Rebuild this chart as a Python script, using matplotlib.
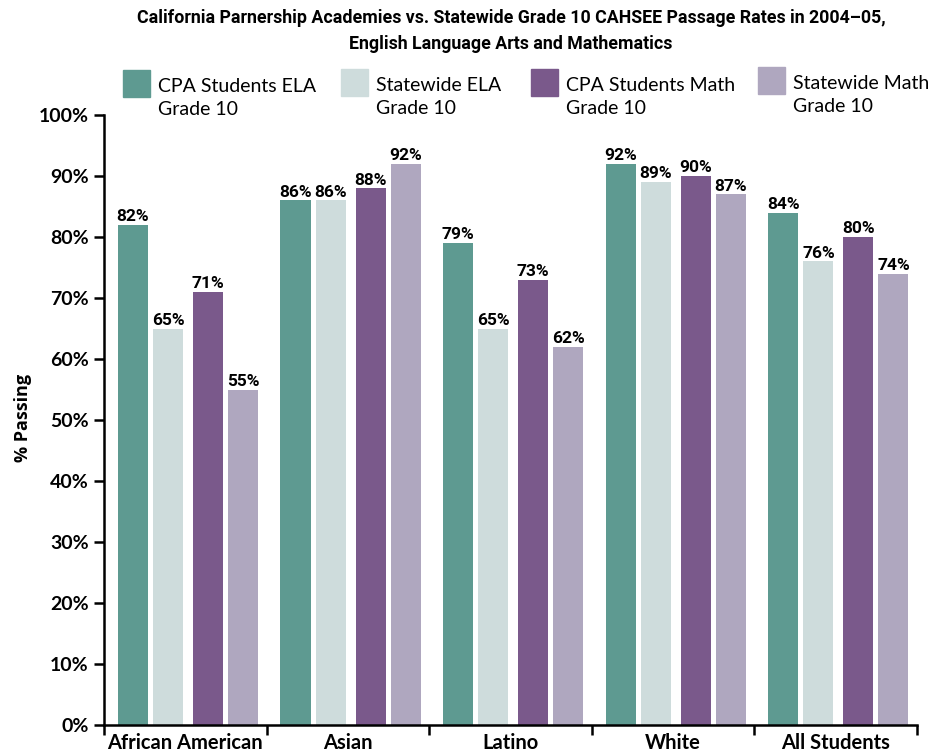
import matplotlib.pyplot as plt
import matplotlib.patches as mpatches
import numpy as np

# data
groups = ["African American", "Asian", "Latino", "White", "All Students"]
series = ["CPA Students ELA\nGrade 10", "Statewide ELA\nGrade 10",
          "CPA Students Math\nGrade 10", "Statewide Math\nGrade 10"]
cpa_ela = [82, 86, 79, 92, 84]
state_ela = [65, 86, 65, 89, 76]
cpa_math = [71, 88, 73, 90, 80]
state_math = [55, 92, 62, 87, 74]
colors = ["#5E9A91", "#CEDCDC", "#7A598B", "#AFA7BF"]

values = [cpa_ela, state_ela, cpa_math, state_math]

narrow = ["Roboto", "DejaVu Sans"]
plt.rcParams["font.family"] = ["Lato", "DejaVu Sans"]

fig = plt.figure(figsize=(9.4, 7.55), dpi=100)
ax = fig.add_axes([0.1106, 0.0397, 0.8649, 0.808])

# bar offsets inside each group (group spans [i, i+1])
offsets = [0.178, 0.394, 0.640, 0.855]
width = 0.185
x = np.arange(len(groups))

for k in range(4):
    bars = ax.bar(x + offsets[k], values[k], width, color=colors[k])
    for b, v in zip(bars, values[k]):
        ax.text(b.get_x() + b.get_width() / 2, v + 0.6, f"{v}%",
                ha="center", va="baseline", fontsize=12.5,
                family=narrow, fontweight="bold")

ax.set_xlim(0, 5)
ax.set_ylim(0, 100)
ax.set_yticks(range(0, 101, 10))
ax.set_yticklabels([f"{t}%" for t in range(0, 101, 10)],
                   fontsize=14, fontweight="bold")
ax.set_xticks(range(0, 6))
ax.set_xticklabels([])
ax.set_xticks(x + 0.5, minor=True)
ax.set_xticklabels(groups, minor=True, fontsize=14.5, fontweight="bold")
ax.tick_params(axis="x", which="minor", length=0, pad=6)
ax.tick_params(axis="x", which="major", length=7, width=1.8, direction="out")
ax.tick_params(axis="y", length=7, width=1.8, direction="out", pad=4)

for s in ["top", "right"]:
    ax.spines[s].set_visible(False)
ax.spines["left"].set_linewidth(1.8)
ax.spines["bottom"].set_linewidth(1.8)

fig.text(0.024, 0.446, "% Passing", rotation=90, ha="center", va="center",
         fontsize=13, fontweight="bold", family=["Open Sans", "DejaVu Sans"])

# title
fig.text(511 / 940, 1 - 9 / 755, "California Parnership Academies vs. Statewide Grade 10 CAHSEE Passage Rates in 2004\u201305,\nEnglish Language Arts and Mathematics",
         ha="center", va="top", fontsize=12.8, fontweight="bold",
         family=narrow, linespacing=1.6)

# legend
leg_x = [123, 341, 531, 758]
leg_y = [70, 69, 69, 67]
for k in range(4):
    px, py = leg_x[k] / 940, 1 - (leg_y[k] + 27) / 755
    fig.patches.append(mpatches.Rectangle((px, py), 27 / 940, 27 / 755,
                                          transform=fig.transFigure,
                                          color=colors[k]))
    fig.text(px + 35 / 940, 1 - (leg_y[k] + 8) / 755, series[k],
             ha="left", va="top", fontsize=14, linespacing=1.4)

fig.savefig("out.png", dpi=100)
